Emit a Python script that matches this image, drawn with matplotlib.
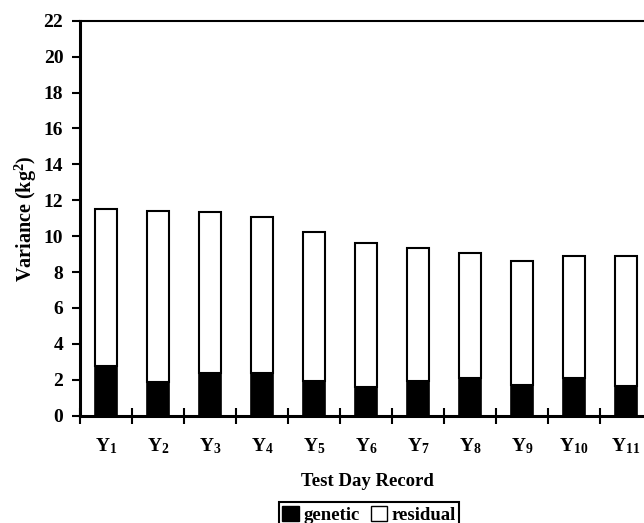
import matplotlib
matplotlib.use("Agg")
import matplotlib.pyplot as plt
from matplotlib.patches import Patch

plt.rcParams["font.family"] = "Liberation Serif"
plt.rcParams["font.weight"] = "bold"
plt.rcParams["axes.labelweight"] = "bold"
plt.rcParams["mathtext.fontset"] = "custom"
plt.rcParams["mathtext.rm"] = "Liberation Serif:bold"
plt.rcParams["mathtext.bf"] = "Liberation Serif:bold"
plt.rcParams["mathtext.it"] = "Liberation Serif:bold"

# Data
records = [f"$\\mathrm{{Y}}_{{{i}}}$" for i in range(1, 12)]
genetic = [2.77, 1.86, 2.38, 2.36, 1.92, 1.58, 1.95, 2.08, 1.69, 2.08, 1.67]
total = [11.52, 11.40, 11.33, 11.07, 10.25, 9.62, 9.32, 9.08, 8.62, 8.88, 8.91]
residual = [t - g for t, g in zip(total, genetic)]

fig = plt.figure(figsize=(6.44, 5.23), dpi=100)
ax = fig.add_axes([80 / 644, 1 - 415.7 / 523, 572 / 644, 395 / 523])

x = list(range(len(records)))
w = 0.42
ax.bar(x, genetic, width=w, color="black", edgecolor="black", linewidth=1.2)
ax.bar(x, residual, width=w, bottom=genetic, color="white",
       edgecolor="black", linewidth=1.5)

ax.set_xlim(-0.5, len(records) - 0.5)
ax.set_ylim(0, 22)
ax.set_yticks(range(0, 23, 2))
ax.set_xticks(x)
ax.set_xticklabels(records, fontsize=14)
ax.set_xticks([i + 0.5 for i in range(-1, len(records))], minor=True)
ax.tick_params(axis="x", which="major", length=0, pad=15)
ax.tick_params(axis="x", which="minor", direction="inout", length=12, width=1.5)
ax.tick_params(axis="y", direction="out", length=6, width=1.5, labelsize=14,
               pad=6)

for side in ["left", "bottom"]:
    ax.spines[side].set_linewidth(2.2)
ax.spines["top"].set_linewidth(1.5)
ax.spines["right"].set_visible(False)

ax.set_ylabel("Variance (kg$^2$)", fontsize=14.5, fontweight="bold",
              labelpad=3)
fig.text(367 / 644, 1 - 482 / 523, "Test Day Record", ha="center",
         va="center", fontsize=13.5, fontweight="bold")

handles = [Patch(facecolor="black", edgecolor="black", label="genetic"),
           Patch(facecolor="white", edgecolor="black", label="residual")]
leg = fig.legend(handles=handles, loc="upper center",
                 bbox_to_anchor=(369 / 644, 1 - 502 / 523), ncol=2,
                 fancybox=False, edgecolor="black", fontsize=13.5,
                 handlelength=0.9, handleheight=0.9, handletextpad=0.2,
                 columnspacing=0.6, borderpad=0.2, borderaxespad=0,
                 framealpha=1)
leg.get_frame().set_linewidth(1.5)

fig.savefig("out.png", dpi=100)
